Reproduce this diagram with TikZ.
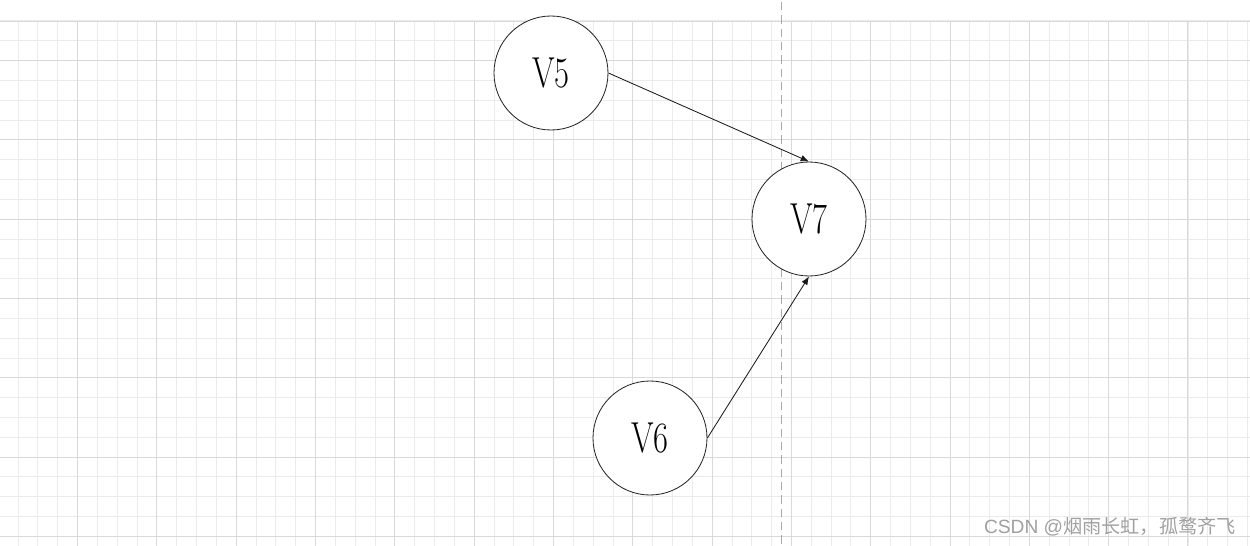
\documentclass[tikz,border=0pt]{standalone}
\usepackage{fontspec}
\newfontfamily\cjk{Noto Sans CJK SC}
\newfontfamily\wmlatin{Liberation Sans}
\usetikzlibrary{arrows.meta}
\definecolor{minorgrid}{HTML}{EBEBEB}
\definecolor{majorgrid}{HTML}{D9D9D9}
\definecolor{dashgray}{HTML}{AAAAAA}
\definecolor{wmgray}{HTML}{A0A0A0}
\tikzset{
  minorline/.style={draw=minorgrid, line width=0.6pt},
  majorline/.style={draw=majorgrid, line width=0.6pt},
  vertex/.style={circle, draw=black!85, line width=0.5pt, fill=white, minimum size=68.4pt, inner sep=0pt,
    font=\fontsize{26}{30}\selectfont},
  edge/.style={draw=black!90, line width=0.5pt, -{Latex[length=5pt,width=4pt]}},
}
\begin{document}
\begin{tikzpicture}[x=0.6pt,y=-0.6pt]
\useasboundingbox (0,0) rectangle (1250,546);
\fill[white] (0,0) rectangle (1250,546);
% minor grid
\foreach \i in {0,...,63} \draw[minorline] ({-1.7+19.83*\i},21) -- ({-1.7+19.83*\i},546);
\foreach \i in {0,...,26} \draw[minorline] (0,{20.9+19.83*\i}) -- (1250,{20.9+19.83*\i});
% major grid
\foreach \i in {0,...,14} \draw[majorline] ({77.5+79.32*\i},21) -- ({77.5+79.32*\i},546);
\foreach \i in {0,...,6} \draw[majorline] (0,{60.5+79.32*\i}) -- (1250,{60.5+79.32*\i});
\draw[majorline] (0,21) -- (1250,21);
% dashed guide
\coordinate (gtop) at (781,2);
\coordinate (gbot) at (781,546);
\draw[dashgray, line width=0.6pt, dash pattern=on 5pt off 3pt] (gtop) -- (gbot);
% vertices
\node[vertex] (v5) at (551,73) {\scalebox{0.75}[1]{V5}};
\node[vertex] (v7) at (809,219) {\scalebox{0.75}[1]{V7}};
\node[vertex] (v6) at (650,438) {\scalebox{0.75}[1]{V6}};
% edges
\draw[edge] (v5.east) -- (v7.north);
\draw[edge] (v6.east) -- (v7.south);
% watermark
\node[anchor=east, text=wmgray, inner sep=0pt, font=\fontsize{11.5}{13}\selectfont] (wm) at (1236,527) {{\wmlatin CSDN @}{\cjk 烟雨长虹，孤鹜齐飞}};
\end{tikzpicture}
\end{document}
